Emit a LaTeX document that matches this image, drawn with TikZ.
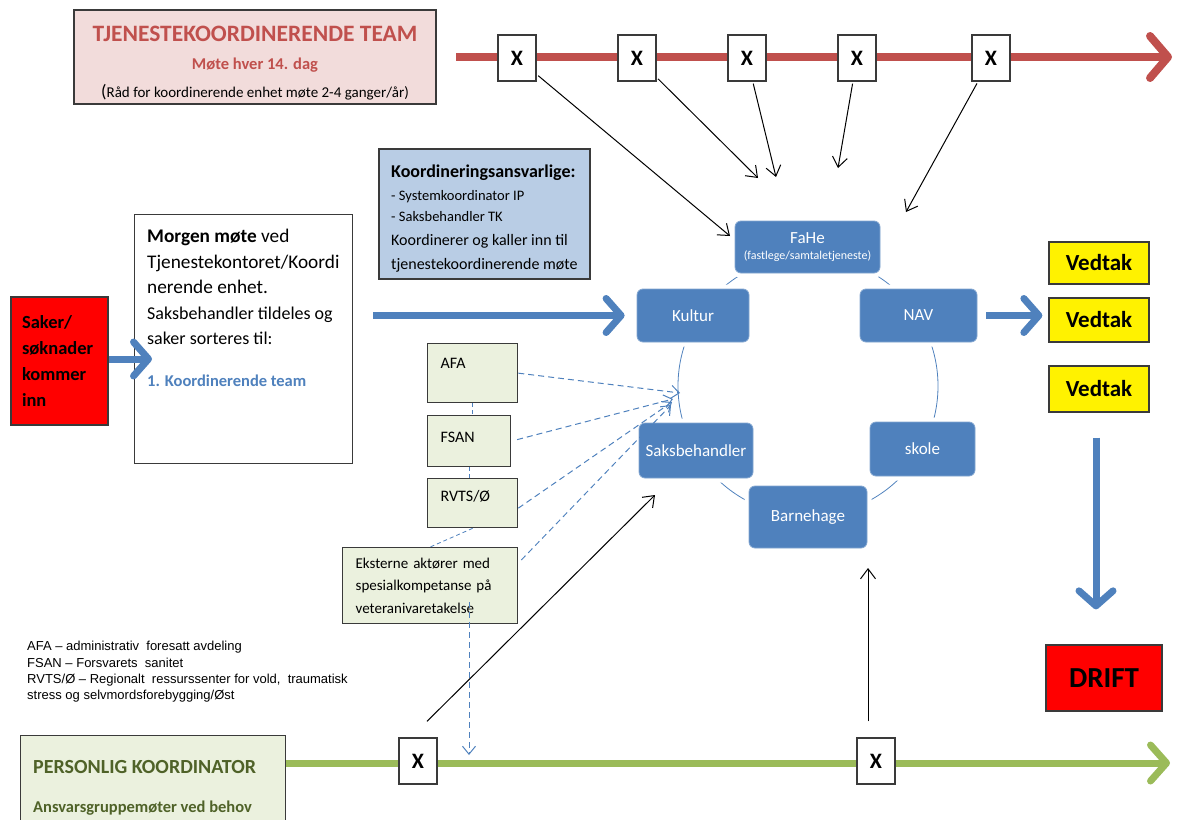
\documentclass[tikz,border=0pt]{standalone}
\usepackage{fontspec}
\setmainfont{Carlito}
\newfontfamily\arialfont{Liberation Sans}
\usetikzlibrary{arrows.meta,positioning,calc}

\definecolor{teamred}{HTML}{C0504D}
\definecolor{teampink}{HTML}{F2DCDB}
\definecolor{ringblue}{HTML}{4F81BD}
\definecolor{paleblue}{HTML}{B9CDE5}
\definecolor{palegreen}{HTML}{EBF1DE}
\definecolor{pkgreen}{HTML}{9BBB59}
\definecolor{olive}{HTML}{4F6228}
\definecolor{edgegray}{HTML}{3A3A3A}

\tikzset{
  box/.style={draw=edgegray, line width=1.3pt, inner sep=0pt},
  xbox/.style={box, fill=white, minimum width=38, minimum height=46,
    font=\fontsize{22}{22}\selectfont\bfseries},
  ringnode/.style={fill=ringblue, draw=ringblue!70!white, line width=0.8pt,
    rounded corners=6, text=white, align=center, inner sep=0pt,
    preaction={draw=white, line width=9pt},
    font=\fontsize{17}{19}\selectfont},
  extbox/.style={box, fill=palegreen, inner xsep=13, inner ysep=0pt,
    align=left, font=\fontsize{16}{22.5}\selectfont},
  vedtak/.style={box, fill=yellow, minimum width=100,
    font=\fontsize{23}{23}\selectfont\bfseries},
  fat/.style={ringblue, line width=7pt,
    -{Straight Barb[round, length=15pt, width=34pt]}},
  thinarrow/.style={black, line width=1pt,
    -{Straight Barb[length=10pt, width=15pt]}},
  dasharrow/.style={ringblue, line width=1pt, dash pattern=on 6pt off 4pt,
    -{Straight Barb[length=8pt, width=13pt]}},
  dashlink/.style={ringblue, line width=0.8pt, dash pattern=on 4pt off 3pt}
}

\begin{document}
\begin{tikzpicture}[x=1pt, y=-1pt]

  \useasboundingbox (0,0) rectangle (1180,819);

  % time line for the team
  \coordinate (redstart) at (456,57);
  \coordinate (redend) at (1172,57);
  \draw[teamred, line width=8pt, -{Straight Barb[round, length=18pt, width=42pt]}]
    (redstart) -- (redend);

  \node[box, fill=teampink, minimum width=362, minimum height=94] (team) at (255,57) {};
  \node[align=center, inner sep=0pt, font=\fontsize{15}{28}\selectfont] (teamtxt) at (255,63)
    {\textcolor{teamred}{\fontsize{23.5}{28}\selectfont\bfseries TJENESTEKOORDINERENDE TEAM}\\
     \textcolor{teamred}{\fontsize{16.5}{28}\selectfont\bfseries Møte hver 14. dag}\\
     {\fontsize{18}{28}\selectfont(}Råd for koordinerende enhet møte 2-4 ganger/år)};

  % meetings on the team line
  \foreach \i/\x in {1/517,2/637,3/747,4/857,5/991}
    \node[xbox] (tx\i) at (\x,58) {X};

  % the ring of services
  \draw[ringblue, line width=0.8pt] (808,386) circle (130);
  \node[ringnode, minimum width=145, minimum height=52] (fahe) at (807.5,247)
    {FaHe\\[-3pt]{\fontsize{12}{14}\selectfont(fastlege/samtaletjeneste)}};
  \node[ringnode, minimum width=112, minimum height=53] (kultur) at (693,315.5) {Kultur};
  \node[ringnode, minimum width=117, minimum height=53] (nav) at (918.5,315.5) {NAV};
  \node[ringnode, minimum width=114, minimum height=55] (saksb) at (696,450.5) {Saksbehandler};
  \node[ringnode, minimum width=105, minimum height=54] (skole) at (922.5,449) {skole};
  \node[ringnode, minimum width=118, minimum height=62] (barn) at (808,517) {Barnehage};

  % arrows from the team meetings
  \foreach \i/\tx/\ty in {1/730/236,2/758/178,3/776/177,4/838/168,5/906/212} {
    \coordinate (ta\i) at (\tx,\ty);
    \draw[thinarrow, shorten <=2pt] (tx\i) -- (ta\i);
  }

  \node[box, fill=paleblue, minimum width=211, minimum height=130] (ansvar) at (484.5,214) {};
  \node[anchor=north west, align=left, inner sep=0pt,
    font=\fontsize{16}{24}\selectfont] (ansvartxt) at (391,165)
    {\textbf{\fontsize{18}{24}\selectfont Koordineringsansvarlige:}\\[-1pt]
     {\fontsize{14.5}{24}\selectfont - Systemkoordinator IP}\\[-3pt]
     {\fontsize{14.5}{24}\selectfont - Saksbehandler TK}\\
     Koordinerer og kaller inn til\\
     tjenestekoordinerende møte};

  \node[box, fill=white, anchor=north west, minimum width=218, minimum height=249]
    (morgen) at (134,214) {};
  \node[anchor=north west, align=left, inner sep=0pt,
    font=\fontsize{19.3}{25.5}\selectfont] (morgentxt) at (147,229)
    {\textbf{Morgen møte} ved\\
     Tjenestekontoret/Koordi\\
     nerende enhet.\\
     {\fontsize{18}{25.5}\selectfont Saksbehandler tildeles og}\\
     {\fontsize{18}{25.5}\selectfont saker sorteres til:}\\[16pt]
     \textcolor{ringblue}{\bfseries\fontsize{16.5}{25}\selectfont 1. Koordinerende team}};

  \node[box, fill=red, minimum width=97, minimum height=128, text width=75,
    inner xsep=11, align=left, font=\fontsize{18.5}{26}\selectfont\bfseries]
    (saker) at (59.5,361) {Saker/\\søknader\\kommer\\inn};

  % decisions and running
  \node[vedtak, minimum height=42] (vedtak1) at (1099,263) {Vedtak};
  \node[vedtak, minimum height=44] (vedtak2) at (1099,320) {Vedtak};
  \node[vedtak, minimum height=46] (vedtak3) at (1099,389) {Vedtak};
  \node[box, fill=red, minimum width=116, minimum height=66,
    font=\fontsize{29}{29}\selectfont\bfseries] (drift) at (1104,678) {DRIFT};

  % big blue arrows
  \coordinate (sakertip) at (152,359);
  \draw[fat] (saker.east |- sakertip) -- (sakertip);
  \draw[fat, shorten <=20pt, shorten >=12pt] (morgen.east |- kultur.west) -- (kultur.west);
  \draw[fat, shorten <=9pt, shorten >=6pt] (nav.east) -- (nav.east -| vedtak2.west);
  \draw[fat, shorten <=25pt, shorten >=35pt] ([xshift=-3pt]vedtak3.south)
    -- ([xshift=-3pt]vedtak3.south |- drift.north);

  % external actors
  \node[extbox, anchor=north west, text width=64, text height=25, text depth=34]
    (afa) at (427,343) {AFA};
  \node[extbox, anchor=north west, text width=57, text height=27, text depth=24]
    (fsan) at (427,415) {FSAN};
  \node[extbox, anchor=north west, text width=64, text height=23, text depth=26]
    (rvts) at (427,478) {RVTS/Ø};
  \node[extbox, anchor=north west, minimum height=76, text width=149,
    font=\fontsize{15}{22.5}\selectfont]
    (ekst) at (342,547) {Eksterne aktører med\\spesialkompetanse på\\veteranivaretakelse};

  \draw[dashlink] (afa.south) -- (afa.south |- fsan.north);
  \draw[dashlink] (fsan.south) -- (fsan.south |- rvts.north);
  \draw[dashlink] (rvts.south) -- (ekst.north);

  \coordinate (dtA) at (680,393);
  \coordinate (dtB) at (673,399);
  \coordinate (dtC) at (672,402);
  \coordinate (dtD) at (671,405);
  \draw[dasharrow] (afa.east) -- (dtA);
  \draw[dasharrow, shorten <=6pt] (fsan.east) -- (dtB);
  \draw[dasharrow] ([yshift=-5pt]rvts.east) -- (dtC);
  \draw[dasharrow] ([shift={(3pt,-13pt)}]ekst.north east) -- (dtD);

  % legend
  \node[anchor=north west, align=left, inner sep=0pt,
    font=\arialfont\fontsize{13}{16.4}\selectfont] (legend) at (27,641)
    {AFA – administrativ\ \ foresatt avdeling\\
     FSAN – Forsvarets\ \ sanitet\\
     RVTS/Ø – Regionalt\ \ ressurssenter for vold,\ \ traumatisk\\
     stress og selvmordsforebygging/Øst};

  % time line for the personal coordinator
  \node[box, fill=palegreen, anchor=north west, minimum width=265, minimum height=100]
    (pk) at (20,735) {};
  \node[anchor=north west, align=left, inner sep=0pt, text=olive,
    font=\fontsize{16.5}{39}\selectfont\bfseries] (pktxt) at (33,760)
    {{\fontsize{20}{39}\selectfont PERSONLIG KOORDINATOR}\\Ansvarsgruppemøter ved behov};

  \coordinate (greenend) at (1170,763);
  \draw[pkgreen, line width=7pt, -{Straight Barb[round, length=16pt, width=36pt]}]
    (pk.east |- greenend) -- (greenend);

  \node[xbox] (gx1) at (418,761) {X};
  \node[xbox] (gx2) at (876,761) {X};

  \coordinate (gt1) at (655,495);
  \coordinate (gt2) at (868,568);
  \draw[thinarrow] ([shift={(9pt,16pt)}]gx1.north) -- (gt1);
  \draw[thinarrow] ([shift={(-8pt,16pt)}]gx2.north) -- (gt2);

  \coordinate (dashend) at (469,755);
  \draw[dasharrow] (dashend |- ekst.south) ++(0,-22) -- (dashend);

\end{tikzpicture}
\end{document}
